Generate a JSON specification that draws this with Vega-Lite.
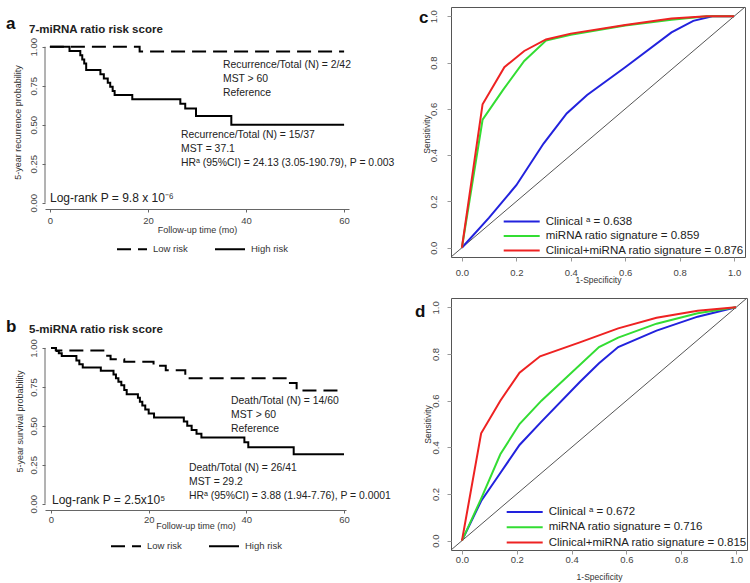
{
  "$schema": "https://vega.github.io/schema/vega-lite/v6.json",
  "background": "white",
  "padding": {"left": 5, "top": 6, "right": 5, "bottom": 5},
  "columns": 2,
  "spacing": {"row": 41, "column": 102},
  "align": "none",
  "bounds": "flush",
  "resolve": {"scale": {"color": "independent", "strokeDash": "independent"}, "legend": {"color": "independent", "strokeDash": "independent"}},
  "config": {
    "view": {"stroke": null},
    "font": "Liberation Sans",
    "axis": {"labelFont": "Liberation Sans", "labelFontSize": 9.5, "labelColor": "#444", "titleFont": "Liberation Sans", "titleFontSize": 9, "titleFontWeight": "normal", "titleColor": "#333", "domainColor": "#666", "tickColor": "#666", "tickSize": 3, "grid": false},
    "legend": {"padding": 0, "labelFont": "Liberation Sans", "labelColor": "#333", "labelLimit": 0}
  },
  "concat": [
    {
      "width": 304, "height": 202,
      "layer": [
        {
          "data": {"values": [
            {"group": "Low risk", "t": 0, "s": 1}, {"group": "Low risk", "t": 18.3, "s": 0.969}, {"group": "Low risk", "t": 60, "s": 0.969},
            {"group": "High risk", "t": 0, "s": 1}, {"group": "High risk", "t": 4.0, "s": 0.973}, {"group": "High risk", "t": 6.2, "s": 0.946},
            {"group": "High risk", "t": 6.6, "s": 0.919}, {"group": "High risk", "t": 7.0, "s": 0.892}, {"group": "High risk", "t": 7.4, "s": 0.851},
            {"group": "High risk", "t": 10.3, "s": 0.824}, {"group": "High risk", "t": 11.0, "s": 0.797}, {"group": "High risk", "t": 11.8, "s": 0.77},
            {"group": "High risk", "t": 12.3, "s": 0.743}, {"group": "High risk", "t": 12.8, "s": 0.716}, {"group": "High risk", "t": 13.2, "s": 0.69},
            {"group": "High risk", "t": 16.8, "s": 0.664}, {"group": "High risk", "t": 26.6, "s": 0.635}, {"group": "High risk", "t": 27.6, "s": 0.604},
            {"group": "High risk", "t": 29.8, "s": 0.556}, {"group": "High risk", "t": 37.0, "s": 0.5}, {"group": "High risk", "t": 60, "s": 0.5}
          ]},
          "mark": {"type": "line", "interpolate": "step-after", "color": "black", "strokeWidth": 2},
          "encoding": {
            "x": {"field": "t", "type": "quantitative", "scale": {"domain": [-1, 61], "nice": false, "zero": false},
                  "axis": {"values": [0, 20, 40, 60], "title": "Follow-up time (mo)", "labelPadding": 3, "titleY": 16.5, "titleBaseline": "top"}},
            "y": {"field": "s", "type": "quantitative", "scale": {"domain": [-0.04, 1.2549], "nice": false, "zero": false},
                  "axis": {"values": [0, 0.25, 0.5, 0.75, 1], "format": ".2f", "title": "5-year recurrence probability", "domain": false,
                           "labelAngle": -90, "labelAlign": "center", "labelBaseline": "bottom", "labelPadding": 4,
                           "titleX": -28, "titleY": 115, "titleAngle": -90, "titleBaseline": "middle", "titleAlign": "center"}},
            "strokeDash": {"field": "group", "type": "nominal", "scale": {"domain": ["Low risk", "High risk"], "range": [[14, 7], [1, 0]]},
                           "legend": {"title": null, "orient": "none", "legendX": 81, "legendY": 236, "direction": "horizontal",
                                      "symbolType": "M-3,0H3", "symbolSize": 100, "symbolStrokeWidth": 2, "symbolStrokeColor": "black",
                                      "labelFontSize": 9.5, "labelOffset": 15, "columnPadding": 23}}
          }
        },
        {"data": {"values": [{}]}, "mark": {"type": "rule", "color": "#666"}, "encoding": {"x": {"datum": -1, "type": "quantitative"}, "y": {"datum": 0, "type": "quantitative"}, "y2": {"datum": 1}}},
        {"data": {"values": [{}]}, "mark": {"type": "text", "text": "a", "align": "left", "fontSize": 17, "fontWeight": "bold", "color": "#111"},
         "encoding": {"x": {"datum": -8.95, "type": "quantitative"}, "y": {"datum": 1.146, "type": "quantitative"}}},
        {"data": {"values": [{}]}, "mark": {"type": "text", "text": "7-miRNA ratio risk score", "align": "left", "fontSize": 11.5, "fontWeight": "bold", "color": "#222"},
         "encoding": {"x": {"datum": -4.26, "type": "quantitative"}, "y": {"datum": 1.105, "type": "quantitative"}}},
        {"data": {"values": [{}]}, "mark": {"type": "text", "text": ["Recurrence/Total (N) = 2/42", "MST > 60", "Reference"], "align": "left", "baseline": "alphabetic", "lineHeight": 14, "fontSize": 10.4, "color": "#222"},
         "encoding": {"x": {"datum": 35.3, "type": "quantitative"}, "y": {"datum": 0.8607, "type": "quantitative"}}},
        {"data": {"values": [{}]}, "mark": {"type": "text", "text": ["Recurrence/Total (N) = 15/37", "MST = 37.1", "HRᵃ (95%CI) = 24.13 (3.05-190.79), P = 0.003"], "align": "left", "baseline": "alphabetic", "lineHeight": 14, "fontSize": 10.4, "color": "#222"},
         "encoding": {"x": {"datum": 26.74, "type": "quantitative"}, "y": {"datum": 0.412, "type": "quantitative"}}},
        {"data": {"values": [{}]}, "mark": {"type": "text", "text": "Log-rank P = 9.8 x 10⁻⁶", "align": "left", "baseline": "alphabetic", "fontSize": 12, "color": "#222"},
         "encoding": {"x": {"datum": 0.02, "type": "quantitative"}, "y": {"datum": 0.0036, "type": "quantitative"}}}
      ]
    },
    {
      "width": 294, "height": 250,
      "view": {"stroke": "#555", "strokeWidth": 1},
      "layer": [
        {"data": {"values": [{}]}, "mark": {"type": "rule", "color": "#555", "strokeWidth": 1},
         "encoding": {"x": {"datum": -0.04, "type": "quantitative"}, "y": {"datum": -0.04, "type": "quantitative"}, "x2": {"datum": 1.04}, "y2": {"datum": 1.04}}},
        {
          "data": {"values": [
            {"model": "Clinical ᵃ = 0.638", "fpr": 0, "tpr": 0}, {"model": "Clinical ᵃ = 0.638", "fpr": 0.1, "tpr": 0.13}, {"model": "Clinical ᵃ = 0.638", "fpr": 0.2, "tpr": 0.27},
            {"model": "Clinical ᵃ = 0.638", "fpr": 0.3, "tpr": 0.45}, {"model": "Clinical ᵃ = 0.638", "fpr": 0.385, "tpr": 0.58}, {"model": "Clinical ᵃ = 0.638", "fpr": 0.46, "tpr": 0.66},
            {"model": "Clinical ᵃ = 0.638", "fpr": 0.6, "tpr": 0.78}, {"model": "Clinical ᵃ = 0.638", "fpr": 0.77, "tpr": 0.93}, {"model": "Clinical ᵃ = 0.638", "fpr": 0.85, "tpr": 0.98},
            {"model": "Clinical ᵃ = 0.638", "fpr": 0.92, "tpr": 1.0}, {"model": "Clinical ᵃ = 0.638", "fpr": 1.0, "tpr": 1.0},
            {"model": "miRNA ratio signature = 0.859", "fpr": 0, "tpr": 0}, {"model": "miRNA ratio signature = 0.859", "fpr": 0.076, "tpr": 0.553},
            {"model": "miRNA ratio signature = 0.859", "fpr": 0.15, "tpr": 0.68}, {"model": "miRNA ratio signature = 0.859", "fpr": 0.229, "tpr": 0.807},
            {"model": "miRNA ratio signature = 0.859", "fpr": 0.309, "tpr": 0.895}, {"model": "miRNA ratio signature = 0.859", "fpr": 0.4, "tpr": 0.92},
            {"model": "miRNA ratio signature = 0.859", "fpr": 0.6, "tpr": 0.96}, {"model": "miRNA ratio signature = 0.859", "fpr": 0.77, "tpr": 0.985},
            {"model": "miRNA ratio signature = 0.859", "fpr": 0.9, "tpr": 1.0}, {"model": "miRNA ratio signature = 0.859", "fpr": 1.0, "tpr": 1.0},
            {"model": "Clinical+miRNA ratio signature = 0.876", "fpr": 0, "tpr": 0}, {"model": "Clinical+miRNA ratio signature = 0.876", "fpr": 0.076, "tpr": 0.62},
            {"model": "Clinical+miRNA ratio signature = 0.876", "fpr": 0.156, "tpr": 0.78}, {"model": "Clinical+miRNA ratio signature = 0.876", "fpr": 0.229, "tpr": 0.85},
            {"model": "Clinical+miRNA ratio signature = 0.876", "fpr": 0.309, "tpr": 0.9}, {"model": "Clinical+miRNA ratio signature = 0.876", "fpr": 0.4, "tpr": 0.925},
            {"model": "Clinical+miRNA ratio signature = 0.876", "fpr": 0.6, "tpr": 0.962}, {"model": "Clinical+miRNA ratio signature = 0.876", "fpr": 0.77, "tpr": 0.99},
            {"model": "Clinical+miRNA ratio signature = 0.876", "fpr": 0.9, "tpr": 1.0}, {"model": "Clinical+miRNA ratio signature = 0.876", "fpr": 1.0, "tpr": 1.0}
          ]},
          "mark": {"type": "line", "strokeWidth": 2},
          "encoding": {
            "x": {"field": "fpr", "type": "quantitative", "scale": {"domain": [-0.04, 1.04], "nice": false, "zero": false},
                  "axis": {"values": [0, 0.2, 0.4, 0.6, 0.8, 1], "format": ".1f", "title": "1-Specificity", "domain": false, "tickSize": 4, "tickColor": "#999", "labelPadding": 6, "titleY": 18, "titleBaseline": "top", "titleFontSize": 8.5}},
            "y": {"field": "tpr", "type": "quantitative", "scale": {"domain": [-0.04, 1.04], "nice": false, "zero": false},
                  "axis": {"values": [0, 0.2, 0.4, 0.6, 0.8, 1], "format": ".1f", "title": "Sensitivity", "domain": false, "tickSize": 4, "tickColor": "#999",
                           "labelAngle": -90, "labelAlign": "center", "labelBaseline": "bottom", "labelPadding": 9,
                           "titleX": -25, "titleY": 127, "titleAngle": -90, "titleBaseline": "middle", "titleAlign": "center", "titleFontSize": 8.5}},
            "color": {"field": "model", "type": "nominal",
                      "scale": {"domain": ["Clinical ᵃ = 0.638", "miRNA ratio signature = 0.859", "Clinical+miRNA ratio signature = 0.876"], "range": ["#2222dd", "#33dd33", "#ee2222"]},
                      "legend": {"title": null, "orient": "none", "legendX": 63.7, "legendY": 207.5, "direction": "vertical",
                                 "symbolType": "M-3,0H3", "symbolSize": 144, "symbolStrokeWidth": 2,
                                 "labelFontSize": 11.5, "labelColor": "#222", "labelOffset": 17, "rowPadding": 1.5}}
          }
        },
        {"data": {"values": [{}]}, "mark": {"type": "text", "text": "c", "align": "left", "fontSize": 17, "fontWeight": "bold", "color": "#111"},
         "encoding": {"x": {"datum": -0.1576, "type": "quantitative"}, "y": {"datum": 0.9925, "type": "quantitative"}}}
      ]
    },
    {
      "width": 301, "height": 212,
      "layer": [
        {
          "data": {"values": [
            {"group": "Low risk", "t": 0, "s": 1}, {"group": "Low risk", "t": 1.0, "s": 0.983}, {"group": "Low risk", "t": 11.0, "s": 0.95},
            {"group": "Low risk", "t": 12.2, "s": 0.928}, {"group": "Low risk", "t": 15.0, "s": 0.912}, {"group": "Low risk", "t": 21.0, "s": 0.885},
            {"group": "Low risk", "t": 23.5, "s": 0.857}, {"group": "Low risk", "t": 27.5, "s": 0.805}, {"group": "Low risk", "t": 48.7, "s": 0.775},
            {"group": "Low risk", "t": 50.3, "s": 0.727}, {"group": "Low risk", "t": 59.0, "s": 0.727},
            {"group": "High risk", "t": 0, "s": 1}, {"group": "High risk", "t": 1.0, "s": 0.98}, {"group": "High risk", "t": 1.6, "s": 0.966},
            {"group": "High risk", "t": 2.2, "s": 0.949}, {"group": "High risk", "t": 5.2, "s": 0.92}, {"group": "High risk", "t": 5.8, "s": 0.895},
            {"group": "High risk", "t": 6.5, "s": 0.874}, {"group": "High risk", "t": 10.2, "s": 0.853}, {"group": "High risk", "t": 12.8, "s": 0.83},
            {"group": "High risk", "t": 13.3, "s": 0.806}, {"group": "High risk", "t": 13.8, "s": 0.783}, {"group": "High risk", "t": 14.4, "s": 0.76},
            {"group": "High risk", "t": 15.0, "s": 0.73}, {"group": "High risk", "t": 15.5, "s": 0.703}, {"group": "High risk", "t": 17.8, "s": 0.68},
            {"group": "High risk", "t": 18.2, "s": 0.655}, {"group": "High risk", "t": 18.7, "s": 0.63}, {"group": "High risk", "t": 19.3, "s": 0.605},
            {"group": "High risk", "t": 20.0, "s": 0.58}, {"group": "High risk", "t": 21.1, "s": 0.553}, {"group": "High risk", "t": 27.2, "s": 0.528},
            {"group": "High risk", "t": 27.9, "s": 0.5}, {"group": "High risk", "t": 28.8, "s": 0.473}, {"group": "High risk", "t": 29.8, "s": 0.449},
            {"group": "High risk", "t": 30.8, "s": 0.425}, {"group": "High risk", "t": 39.6, "s": 0.395}, {"group": "High risk", "t": 40.4, "s": 0.362},
            {"group": "High risk", "t": 49.7, "s": 0.318}, {"group": "High risk", "t": 60, "s": 0.318}
          ]},
          "mark": {"type": "line", "interpolate": "step-after", "color": "black", "strokeWidth": 2},
          "encoding": {
            "x": {"field": "t", "type": "quantitative", "scale": {"domain": [-1.23, 60.41], "nice": false, "zero": false},
                  "axis": {"values": [0, 20, 40, 60], "title": "Follow-up time (mo)", "labelPadding": 1, "titleY": 11.5, "titleBaseline": "top"}},
            "y": {"field": "s", "type": "quantitative", "scale": {"domain": [-0.04, 1.3205], "nice": false, "zero": false},
                  "axis": {"values": [0, 0.25, 0.5, 0.75, 1], "format": ".2f", "title": "5-year survival probability", "domain": false,
                           "labelAngle": -90, "labelAlign": "center", "labelBaseline": "bottom", "labelPadding": 4,
                           "titleX": -26, "titleY": 123, "titleAngle": -90, "titleBaseline": "middle", "titleAlign": "center"}},
            "strokeDash": {"field": "group", "type": "nominal", "scale": {"domain": ["Low risk", "High risk"], "range": [[14, 7], [1, 0]]},
                           "legend": {"title": null, "orient": "none", "legendX": 75, "legendY": 242, "direction": "horizontal",
                                      "symbolType": "M-3,0H3", "symbolSize": 100, "symbolStrokeWidth": 2, "symbolStrokeColor": "black",
                                      "labelFontSize": 9.5, "labelOffset": 15, "columnPadding": 23}}
          }
        },
        {"data": {"values": [{}]}, "mark": {"type": "rule", "color": "#666"}, "encoding": {"x": {"datum": -1.23, "type": "quantitative"}, "y": {"datum": 0, "type": "quantitative"}, "y2": {"datum": 1}}},
        {"data": {"values": [{}]}, "mark": {"type": "text", "text": "b", "align": "left", "fontSize": 17, "fontWeight": "bold", "color": "#111"},
         "encoding": {"x": {"datum": -9.22, "type": "quantitative"}, "y": {"datum": 1.133, "type": "quantitative"}}},
        {"data": {"values": [{}]}, "mark": {"type": "text", "text": "5-miRNA ratio risk score", "align": "left", "fontSize": 11.5, "fontWeight": "bold", "color": "#222"},
         "encoding": {"x": {"datum": -4.51, "type": "quantitative"}, "y": {"datum": 1.114, "type": "quantitative"}}},
        {"data": {"values": [{}]}, "mark": {"type": "text", "text": ["Death/Total (N) = 14/60", "MST > 60", "Reference"], "align": "left", "baseline": "alphabetic", "lineHeight": 14, "fontSize": 10.4, "color": "#222"},
         "encoding": {"x": {"datum": 36.86, "type": "quantitative"}, "y": {"datum": 0.643, "type": "quantitative"}}},
        {"data": {"values": [{}]}, "mark": {"type": "text", "text": ["Death/Total (N) = 26/41", "MST = 29.2", "HRᵃ (95%CI) = 3.88 (1.94-7.76), P = 0.0001"], "align": "left", "baseline": "alphabetic", "lineHeight": 14, "fontSize": 10.4, "color": "#222"},
         "encoding": {"x": {"datum": 28.26, "type": "quantitative"}, "y": {"datum": 0.2132, "type": "quantitative"}}},
        {"data": {"values": [{}]}, "mark": {"type": "text", "text": "Log-rank P = 2.5x10⁵", "align": "left", "baseline": "alphabetic", "fontSize": 12, "color": "#222"},
         "encoding": {"x": {"datum": 0.2, "type": "quantitative"}, "y": {"datum": 0.0, "type": "quantitative"}}}
      ]
    },
    {
      "width": 296, "height": 252,
      "view": {"stroke": "#555", "strokeWidth": 1},
      "layer": [
        {"data": {"values": [{}]}, "mark": {"type": "rule", "color": "#555", "strokeWidth": 1},
         "encoding": {"x": {"datum": -0.04, "type": "quantitative"}, "y": {"datum": -0.04, "type": "quantitative"}, "x2": {"datum": 1.04}, "y2": {"datum": 1.04}}},
        {
          "data": {"values": [
            {"model": "Clinical ᵃ = 0.672", "fpr": 0, "tpr": 0}, {"model": "Clinical ᵃ = 0.672", "fpr": 0.07, "tpr": 0.17}, {"model": "Clinical ᵃ = 0.672", "fpr": 0.14, "tpr": 0.29},
            {"model": "Clinical ᵃ = 0.672", "fpr": 0.21, "tpr": 0.41}, {"model": "Clinical ᵃ = 0.672", "fpr": 0.29, "tpr": 0.51}, {"model": "Clinical ᵃ = 0.672", "fpr": 0.43, "tpr": 0.68},
            {"model": "Clinical ᵃ = 0.672", "fpr": 0.5, "tpr": 0.76}, {"model": "Clinical ᵃ = 0.672", "fpr": 0.57, "tpr": 0.83}, {"model": "Clinical ᵃ = 0.672", "fpr": 0.71, "tpr": 0.9},
            {"model": "Clinical ᵃ = 0.672", "fpr": 0.86, "tpr": 0.96}, {"model": "Clinical ᵃ = 0.672", "fpr": 1.0, "tpr": 1.0},
            {"model": "miRNA ratio signature = 0.716", "fpr": 0, "tpr": 0}, {"model": "miRNA ratio signature = 0.716", "fpr": 0.07, "tpr": 0.18},
            {"model": "miRNA ratio signature = 0.716", "fpr": 0.14, "tpr": 0.37}, {"model": "miRNA ratio signature = 0.716", "fpr": 0.21, "tpr": 0.5},
            {"model": "miRNA ratio signature = 0.716", "fpr": 0.29, "tpr": 0.6}, {"model": "miRNA ratio signature = 0.716", "fpr": 0.5, "tpr": 0.83},
            {"model": "miRNA ratio signature = 0.716", "fpr": 0.57, "tpr": 0.87}, {"model": "miRNA ratio signature = 0.716", "fpr": 0.71, "tpr": 0.93},
            {"model": "miRNA ratio signature = 0.716", "fpr": 0.86, "tpr": 0.975}, {"model": "miRNA ratio signature = 0.716", "fpr": 1.0, "tpr": 1.0},
            {"model": "Clinical+miRNA ratio signature = 0.815", "fpr": 0, "tpr": 0}, {"model": "Clinical+miRNA ratio signature = 0.815", "fpr": 0.07, "tpr": 0.46},
            {"model": "Clinical+miRNA ratio signature = 0.815", "fpr": 0.14, "tpr": 0.6}, {"model": "Clinical+miRNA ratio signature = 0.815", "fpr": 0.21, "tpr": 0.72},
            {"model": "Clinical+miRNA ratio signature = 0.815", "fpr": 0.285, "tpr": 0.79}, {"model": "Clinical+miRNA ratio signature = 0.815", "fpr": 0.43, "tpr": 0.85},
            {"model": "Clinical+miRNA ratio signature = 0.815", "fpr": 0.57, "tpr": 0.91}, {"model": "Clinical+miRNA ratio signature = 0.815", "fpr": 0.71, "tpr": 0.955},
            {"model": "Clinical+miRNA ratio signature = 0.815", "fpr": 0.86, "tpr": 0.985}, {"model": "Clinical+miRNA ratio signature = 0.815", "fpr": 1.0, "tpr": 1.0}
          ]},
          "mark": {"type": "line", "strokeWidth": 2},
          "encoding": {
            "x": {"field": "fpr", "type": "quantitative", "scale": {"domain": [-0.04, 1.04], "nice": false, "zero": false},
                  "axis": {"values": [0, 0.2, 0.4, 0.6, 0.8, 1], "format": ".1f", "title": "1-Specificity", "domain": false, "tickSize": 4, "tickColor": "#999", "labelPadding": 0, "titleY": 22, "titleBaseline": "top", "titleFontSize": 8.5}},
            "y": {"field": "tpr", "type": "quantitative", "scale": {"domain": [-0.04, 1.04], "nice": false, "zero": false},
                  "axis": {"values": [0, 0.2, 0.4, 0.6, 0.8, 1], "format": ".1f", "title": "Sensitivity", "domain": false, "tickSize": 4, "tickColor": "#999",
                           "labelAngle": -90, "labelAlign": "center", "labelBaseline": "bottom", "labelPadding": 7,
                           "titleX": -24, "titleY": 126, "titleAngle": -90, "titleBaseline": "middle", "titleAlign": "center", "titleFontSize": 8.5}},
            "color": {"field": "model", "type": "nominal",
                      "scale": {"domain": ["Clinical ᵃ = 0.672", "miRNA ratio signature = 0.716", "Clinical+miRNA ratio signature = 0.815"], "range": ["#2222dd", "#33dd33", "#ee2222"]},
                      "legend": {"title": null, "orient": "none", "legendX": 66.7, "legendY": 207, "direction": "vertical",
                                 "symbolType": "M-3,0H3", "symbolSize": 144, "symbolStrokeWidth": 2,
                                 "labelFontSize": 11.5, "labelColor": "#222", "labelOffset": 17, "rowPadding": 2.3}}
          }
        },
        {"data": {"values": [{}]}, "mark": {"type": "text", "text": "d", "align": "left", "fontSize": 17, "fontWeight": "bold", "color": "#111"},
         "encoding": {"x": {"datum": -0.1713, "type": "quantitative"}, "y": {"datum": 0.98, "type": "quantitative"}}}
      ]
    }
  ]
}
